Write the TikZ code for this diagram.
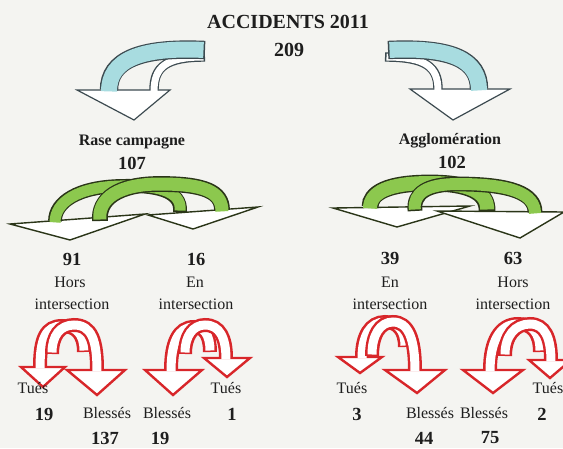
\documentclass[tikz,border=0pt]{standalone}
\usepackage{fontspec}
\setmainfont{Liberation Serif}
\definecolor{bg}{HTML}{F4F4F1}
\definecolor{cyfill}{HTML}{A8DCE0}
\definecolor{cyline}{HTML}{3C4A50}
\definecolor{grfill}{HTML}{8CC84E}
\definecolor{grline}{HTML}{2A3518}
\definecolor{rdline}{HTML}{D8262A}
\definecolor{txt}{HTML}{1E1E1E}
% #1 outline colour, #2 band colour, #3 band width, #4 outer width, #5 path
\newcommand{\band}[5]{%
  \draw[draw=#1, line width=#4] #5;
  \draw[draw=#2, line width=#3, shorten >=-1.4pt, shorten <=1.5pt] #5;}
\tikzset{
  headcy/.style={fill=white, draw=cyline, line width=1.2pt, line join=miter},
  headgr/.style={fill=white, draw=grline, line width=1.4pt, line join=miter},
  headrd/.style={fill=white, draw=rdline, line width=2.4pt, line join=miter},
  lbl/.style={text=txt, inner sep=0pt, anchor=center},
  ttl/.style={lbl, font=\fontsize{20}{23}\selectfont\bfseries},
  cat/.style={lbl, font=\fontsize{16}{19}\selectfont\bfseries},
  num/.style={lbl, font=\fontsize{18.5}{21}\selectfont\bfseries},
  reg/.style={lbl, font=\fontsize{16}{19}\selectfont},
}
\begin{document}
\begin{tikzpicture}[x=1pt,y=-1pt]
\fill[bg] (0,0) rectangle (563,448);
\useasboundingbox (0,0) rectangle (563,448);

% ---------- cyan arrows ----------
\filldraw[headcy] (77,90) -- (134,120) -- (170,90) -- cycle;
\band{cyline}{white}{7pt}{9.4pt}{(205,57) .. controls (166,57) and (154,67) .. (154,90)}
\band{cyline}{cyfill}{16pt}{18.4pt}{(205,50) .. controls (140,47) and (109,60) .. (109,90)}

\filldraw[headcy] (410,89) -- (453,120) -- (510,89) -- cycle;
\band{cyline}{white}{7pt}{9.4pt}{(385,57) .. controls (426,57) and (438,67) .. (438,89)}
\band{cyline}{cyfill}{16pt}{18.4pt}{(388,50) .. controls (452,47) and (479,60) .. (479,89)}

% ---------- green arrows (left) ----------
\filldraw[headgr] (10,224) -- (70,240) -- (145,214) -- cycle;
\filldraw[headgr] (148,215) -- (193,229) -- (258,207) -- cycle;
\band{grline}{grfill}{11pt}{13.8pt}{(180,212) .. controls (182,190) and (155,185) .. (120,186) .. controls (78,187) and (55,202) .. (55,221)}
\band{grline}{grfill}{13pt}{15.8pt}{(100,221) .. controls (98,199) and (118,184) .. (160,184) .. controls (205,184) and (222,192) .. (222,210)}

% ---------- green arrows (right) ----------
\filldraw[headgr] (333,208) -- (397,227) -- (470,206) -- cycle;
\filldraw[headgr] (437,211) -- (520,238) -- (564,212) -- cycle;
\band{grline}{grfill}{14pt}{16.8pt}{(487,211) .. controls (488,192) and (468,183) .. (430,183) .. controls (387,183) and (370,193) .. (370,207)}
\band{grline}{grfill}{12pt}{14.8pt}{(415,211) .. controls (413,193) and (427,184) .. (458,184) .. controls (512,184) and (535,194) .. (535,212)}

% ---------- red arrows ----------
\filldraw[headrd] (21,367) -- (43,387) -- (65,367) -- cycle;
\filldraw[headrd] (67,370) -- (97,395) -- (125,370) -- cycle;
\band{rdline}{white}{9pt}{14pt}{(84,352) .. controls (84,334) and (76,326) .. (62,326) .. controls (46,326) and (40,338) .. (40,367)}
\band{rdline}{white}{9pt}{14pt}{(52,354) .. controls (52,336) and (60,325) .. (74,325) .. controls (92,325) and (97,341) .. (97,370)}

\filldraw[headrd] (145,370) -- (173,395) -- (202,370) -- cycle;
\filldraw[headrd] (204,358) -- (227,377) -- (250,358) -- cycle;
\band{rdline}{white}{9pt}{14pt}{(210,352) .. controls (210,335) and (204,327) .. (194,327) .. controls (178,327) and (171,343) .. (171,370)}
\band{rdline}{white}{9pt}{14pt}{(185,354) .. controls (185,336) and (193,325) .. (205,325) .. controls (220,325) and (226,338) .. (226,358)}

\filldraw[headrd] (338,357) -- (360,373) -- (382,357) -- cycle;
\filldraw[headrd] (385,370) -- (417,393) -- (445,370) -- cycle;
\band{rdline}{white}{9pt}{14pt}{(405,347) .. controls (405,331) and (398,322) .. (385,322) .. controls (370,322) and (362,336) .. (362,357)}
\band{rdline}{white}{9pt}{14pt}{(372,356) .. controls (372,335) and (380,322) .. (393,322) .. controls (408,322) and (415,338) .. (415,370)}

\filldraw[headrd] (463,370) -- (493,393) -- (523,370) -- cycle;
\filldraw[headrd] (529,360) -- (550,378) -- (571,360) -- cycle;
\band{rdline}{white}{9pt}{14pt}{(540,352) .. controls (540,333) and (532,324) .. (518,324) .. controls (500,324) and (490,341) .. (490,370)}
\band{rdline}{white}{9pt}{14pt}{(505,356) .. controls (505,336) and (515,324) .. (530,324) .. controls (545,324) and (551,338) .. (551,360)}

% ---------- texts ----------
\node[ttl] (title) at (288,22) {ACCIDENTS 2011};
\node[ttl] (total) at (289,50) {209};
\node[cat] (rase) at (132,142) {Rase campagne};
\node[num] (rasen) at (132,163) {107};
\node[cat] (agglo) at (450,141) {Agglomération};
\node[num] (agglon) at (452,162) {102};

\node[num] (n91) at (72,259) {91};
\node[reg] (h1) at (70,282) {Hors};
\node[reg] (i1) at (72,304) {intersection};
\node[num] (n16) at (196,259) {16};
\node[reg] (e1) at (195,282) {En};
\node[reg] (i2) at (196,304) {intersection};
\node[num] (n39) at (390,258) {39};
\node[reg] (e2) at (390,282) {En};
\node[reg] (i3) at (390,304) {intersection};
\node[num] (n63) at (513,258) {63};
\node[reg] (h2) at (513,282) {Hors};
\node[reg] (i4) at (513,304) {intersection};

\node[reg] (t1) at (33,388) {Tués};
\node[num] (n19a) at (44,414) {19};
\node[reg] (b1) at (107,413) {Blessés};
\node[num] (n137) at (105,438) {137};
\node[reg] (b2) at (167,413) {Blessés};
\node[num] (n19b) at (160,438) {19};
\node[reg] (t2) at (226,388) {Tués};
\node[num] (n1) at (232,414) {1};

\node[reg] (t3) at (352,388) {Tués};
\node[num] (n3) at (357,414) {3};
\node[reg] (b3) at (430,413) {Blessés};
\node[num] (n44) at (424,438) {44};
\node[reg] (b4) at (484,413) {Blessés};
\node[num] (n75) at (490,438) {75};
\node[reg] (t4) at (548,388) {Tués};
\node[num] (n2) at (542,414) {2};
\end{tikzpicture}
\end{document}
